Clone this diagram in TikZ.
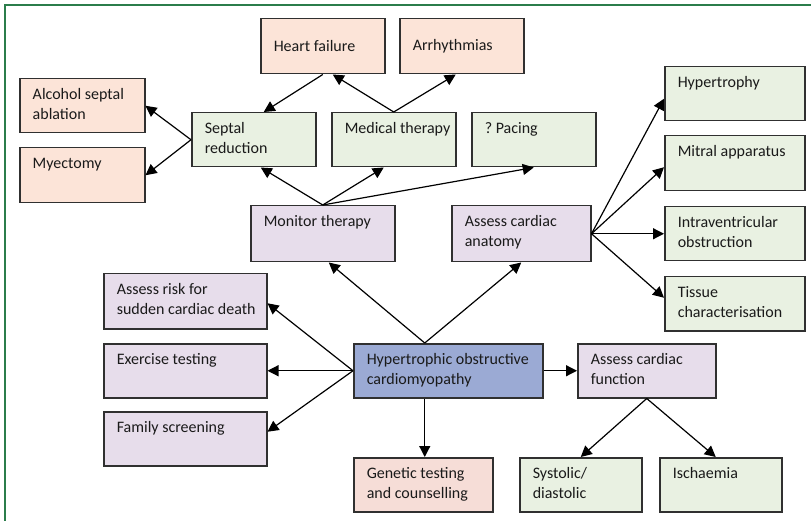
\documentclass[tikz,border=0pt]{standalone}
\usepackage{fontspec}
\setmainfont{Carlito}
\usetikzlibrary{arrows.meta}
\definecolor{peach}{HTML}{FCE4D8}
\definecolor{pinkish}{HTML}{F6DDD7}
\definecolor{lgreen}{HTML}{E9F1E2}
\definecolor{lav}{HTML}{E7DDEB}
\definecolor{hblue}{HTML}{9BAAD4}
\definecolor{frameg}{HTML}{2B7D4B}
\definecolor{edgegray}{HTML}{303030}
\definecolor{txt}{HTML}{1A1A1A}
% name, fill, x1, y1, x2, y2, vertical position (t/c), text
\newcommand\bx[8]{%
  \node[box,fill=#2,anchor=north west] (#1) at (#3,#4)
    {\hspace*{13pt}\parbox[c][\dimexpr#6pt-#4pt-20pt\relax][#7]{\dimexpr#5pt-#3pt-13pt\relax}{\raggedright #8}};}
\begin{document}
\begin{tikzpicture}[x=1pt,y=-1pt,
  box/.style={draw=edgegray, line width=1.5pt, inner xsep=0pt, inner ysep=10pt,
    font=\fontsize{16pt}{20pt}\selectfont, text=txt},
  conn/.style={-{Triangle[length=11pt,width=11pt]}, line width=1.2pt, black}]
\useasboundingbox (0,0) rectangle (811,521);
\draw[frameg, line width=1.5pt] (5,521) -- (5,5) -- (811,5);

\bx{hf}{peach}{260}{18}{384}{73}{c}{Heart failure}
\bx{arr}{peach}{399}{18}{523}{73}{c}{Arrhythmias}
\bx{alc}{peach}{19}{78}{144}{132}{t}{Alcohol septal\\ablation}
\bx{mye}{peach}{19}{147}{144}{202}{t}{Myectomy}
\bx{sep}{lgreen}{191}{112}{315}{166}{t}{Septal\\reduction}
\bx{med}{lgreen}{331}{112}{455}{166}{t}{Medical therapy}
\bx{pac}{lgreen}{471}{112}{595}{166}{t}{?\ Pacing}
\bx{mon}{lav}{250}{205}{394}{261}{t}{Monitor therapy}
\bx{ana}{lav}{451}{205}{590}{261}{t}{Assess cardiac\\anatomy}
\bx{hyp}{lgreen}{664}{66}{804}{120}{t}{Hypertrophy}
\bx{mit}{lgreen}{664}{135}{804}{190}{t}{Mitral apparatus}
\bx{ivo}{lgreen}{664}{206}{804}{260}{t}{Intraventricular\\obstruction}
\bx{tis}{lgreen}{664}{276}{804}{330}{t}{Tissue\\characterisation}
\bx{risk}{lav}{103}{273}{266}{328}{t}{Assess risk for\\sudden cardiac death}
\bx{ex}{lav}{103}{343}{266}{397}{t}{Exercise testing}
\bx{fam}{lav}{103}{411}{266}{465}{t}{Family screening}
\bx{hocm}{hblue}{353}{343}{542}{397}{t}{Hypertrophic obstructive\\cardiomyopathy}
\bx{gen}{pinkish}{353}{457}{492}{511}{t}{Genetic testing\\and counselling}
\bx{fun}{lav}{577}{343}{715}{397}{t}{Assess cardiac\\function}
\bx{sys}{lgreen}{519}{457}{641}{511}{t}{Systolic/\\diastolic}
\bx{isc}{lgreen}{659}{457}{781}{511}{t}{Ischaemia}

\coordinate (ht) at ([xshift=-23.5pt]hocm.north);
\coordinate (hb) at ([xshift=-23.5pt]hocm.south);

\draw[conn] (hf.south) -- ([xshift=10pt]sep.north);
\draw[conn] (med.north) -- ([xshift=10pt]hf.south);
\draw[conn] (med.north) -- ([xshift=-6pt]arr.south);
\draw[conn] (sep.west) -- (alc.east);
\draw[conn] (sep.west) -- (mye.east);
\draw[conn] (mon.north) -- ([xshift=7pt]sep.south);
\draw[conn] (mon.north) -- ([xshift=-10pt]med.south);
\draw[conn] (mon.north) -- (pac.south);
\draw[conn] (ht) -- ([xshift=6pt]mon.south);
\draw[conn] (ht) -- (ana.south);
\draw[conn] (ana.east) -- ([yshift=-5pt]hyp.west);
\draw[conn] (ana.east) -- ([yshift=-4pt]mit.west);
\draw[conn] (ana.east) -- (ivo.west);
\draw[conn] (ana.east) -- ([yshift=6pt]tis.west);
\draw[conn] (hocm.west) -- ([yshift=-2pt]risk.east);
\draw[conn] (hocm.west) -- (ex.east);
\draw[conn] (hocm.west) -- ([yshift=7pt]fam.east);
\draw[conn] (hocm.east) -- (fun.west);
\draw[conn] (hb) -- (hb |- gen.north);
\draw[conn] (fun.south) -- (sys.north);
\draw[conn] (fun.south) -- ([xshift=-5pt]isc.north);
\end{tikzpicture}
\end{document}
